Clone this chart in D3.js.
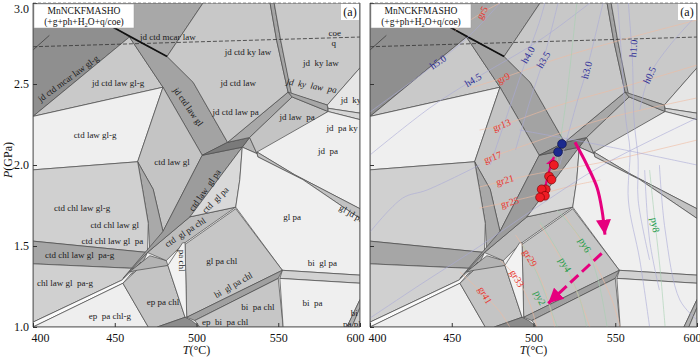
<!DOCTYPE html>
<meta charset="utf-8">
<script src="https://d3js.org/d3.v7.min.js"></script>
<style>
  body { margin: 0; background: #fff; }
  text { font-family: "Liberation Serif", "DejaVu Serif", serif; }
</style>
<div id="chart"></div>
<script>

var W = 700, H = 359

// axis ticks
var tTicks = [400, 450, 500, 550, 600]
var pTicks = [1.0, 1.5, 2.0, 2.5, 3.0]

// pseudosection fields, vertices as [T (°C), P (GPa)]
var fields = [
  ["jd ctd mcar law gl-g", [[400,3.0],[450,3.0],[450,2.85],[459,2.79],[400,2.30]]],
  ["jd ctd mcar law", [[450,3.0],[504,3.0],[482,2.67],[459,2.79],[450,2.85]]],
  ["jd ctd law gl-g", [[400,2.30],[459,2.79],[479.5,2.48]]],
  ["jd ctd law gl", [[459,2.79],[482,2.67],[498,2.51],[519,2.14],[503.5,2.06],[479.5,2.48]]],
  ["ctd law gl-g", [[400,2.30],[479.5,2.48],[464,2.02],[400,1.97]]],
  ["ctd law gl", [[479.5,2.48],[503.5,2.06],[479.5,1.59],[473.5,1.85],[464,2.02]]],
  ["ctd chl law gl", [[464,2.02],[473.5,1.85],[479.5,1.59],[471.5,1.46],[470.5,1.64],[467,1.85]]],
  ["ctd chl law gl-g", [[400,1.97],[464,2.02],[467,1.85],[470.5,1.64],[470,1.46],[400,1.53]]],
  ["ctd chl law gl pa-g", [[400,1.53],[470,1.46],[465.5,1.36],[400,1.39]]],
  ["chl law gl pa-g", [[400,1.39],[465.5,1.36],[454.5,1.29],[400,1.03]]],
  ["sliver", [[400,1.03],[454.5,1.29],[466,1.40],[455,1.27],[400,1.0]]],
  ["ep pa chl-g", [[400,1.0],[455,1.27],[470.5,1.0]]],
  ["ep pa chl", [[455,1.27],[465.5,1.37],[482.5,1.38],[493,1.06],[476,1.0],[470.5,1.0]]],
  ["ctd pa chl", [[459,1.34],[471.5,1.44],[481.5,1.41],[482.5,1.38],[463.5,1.35]]],
  ["ctd gl pa chl", [[470,1.46],[496,1.68],[524,1.74],[491.5,1.51],[481.5,1.41]]],
  ["ctd law gl pa", [[503.5,2.06],[528,2.11],[496,1.68],[470,1.46],[455,1.30],[479.5,1.59]]],
  ["ctd gl pa", [[528,2.11],[526.5,1.91],[524,1.74],[496,1.68]]],
  ["jd ctd gl pa", [[532.5,2.17],[537,2.07],[528,2.11]]],
  ["jd ctd law gl pa", [[503.5,2.06],[519,2.14],[532.5,2.17],[528,2.11]]],
  ["jd ctd law pa", [[519,2.14],[556,2.45],[558.5,2.42],[532.5,2.17]]],
  ["jd law pa", [[558.5,2.42],[580.5,2.33],[537,2.07],[532.5,2.17]]],
  ["jd ctd law", [[504,3.0],[545,3.0],[549,2.77],[556,2.45],[519,2.14],[498,2.51],[482,2.67]]],
  ["jd ctd ky law", [[545,3.0],[547.5,3.0],[551.5,2.77],[558.5,2.43],[556,2.45],[549,2.77]]],
  ["jd ky law", [[547.5,3.0],[600,3.0],[600,2.60],[580,2.37],[558,2.44],[551.5,2.77]]],
  ["jd ky law pa", [[556,2.45],[580,2.37],[580.5,2.33],[558.5,2.42]]],
  ["jd ky", [[580,2.37],[600,2.60],[600,2.32],[580.5,2.35]]],
  ["jd pa ky", [[580.5,2.35],[600,2.32],[600,2.28],[580.5,2.33]]],
  ["jd pa", [[580.5,2.33],[600,2.28],[600,1.73],[560,1.94],[537,2.08]]],
  ["gl jd pa", [[537,2.08],[560,1.94],[600,1.73],[600,1.67],[565,1.91],[537.5,2.05]]],
  ["gl pa", [[537.5,2.05],[565,1.91],[600,1.67],[600,1.32],[552.5,1.35],[524,1.74],[526.5,1.91],[528,2.11],[537,2.07]]],
  ["bi gl pa", [[552.5,1.35],[600,1.32],[600,1.27],[551,1.30]]],
  ["gl pa chl", [[493,1.51],[524,1.73],[552.5,1.35],[494,1.06]]],
  ["bi gl pa chl", [[494,1.06],[552.5,1.35],[550,1.30],[499,1.04]]],
  ["bi pa chl", [[499,1.04],[550,1.30],[553,1.0],[502,1.0]]],
  ["bi pa", [[551,1.30],[600,1.27],[600,1.17],[592,1.0],[553,1.0]]],
  ["bi pa pl", [[592,1.0],[600,1.17],[600,1.12],[595,1.0]]],
  ["pa pl", [[595,1.0],[600,1.12],[600,1.0]]],
  ["pa chl", [[482.5,1.38],[491.5,1.52],[493,1.52],[494,1.06],[493,1.06]]],
  ["ep bi pa chl", [[476,1.0],[493,1.06],[497,1.04],[502,1.0]]]
]

var fieldShade = {
  "jd ctd mcar law gl-g": "#8f8f8f", "jd ctd mcar law": "#a8a8a8", "jd ctd law gl-g": "#c9c9c9",
  "jd ctd law gl": "#a3a3a3", "ctd law gl-g": "#efefef", "ctd law gl": "#c4c4c4",
  "ctd chl law gl": "#a9a9a9", "ctd chl law gl-g": "#d0d0d0", "ctd chl law gl pa-g": "#a6a6a6",
  "chl law gl pa-g": "#d0d0d0", "sliver": "#fafafa", "ep pa chl-g": "#eeeeee", "ep pa chl": "#c4c4c4",
  "ctd pa chl": "#b3b3b3", "ctd gl pa chl": "#bdbdbd", "ctd law gl pa": "#9c9c9c", "ctd gl pa": "#d9d9d9",
  "jd ctd gl pa": "#b5b5b5", "jd ctd law gl pa": "#7a7a7a", "jd ctd law pa": "#a8a8a8", "jd law pa": "#c4c4c4",
  "jd ctd law": "#c8c8c8", "jd ctd ky law": "#a5a5a5", "jd ky law": "#c9c9c9", "jd ky law pa": "#a7a7a7",
  "jd ky": "#e6e6e6", "jd pa ky": "#d6d6d6", "jd pa": "#efefef", "gl jd pa": "#c2c2c2", "gl pa": "#efefef",
  "bi gl pa": "#d2d2d2", "gl pa chl": "#c6c6c6", "bi gl pa chl": "#a0a0a0", "bi pa chl": "#c6c6c6",
  "bi pa": "#efefef", "bi pa pl": "#b0b0b0", "pa pl": "#cfcfcf", "pa chl": "#f2f2f2", "ep bi pa chl": "#8c8c8c"
}

// coe = q reaction (dashed) and two single boundaries
var coeQ = [[400,2.73],[600,2.79]]
var heavyLine = [[449,2.85],[482,2.67]]
var thinLine = [[400,2.71],[410,2.80]]

// field labels of panel 1: [text, T, P]
var fieldLabels = [
  ["jd ctd mcar law gl-g", 421.5, 2.535], ["jd ctd mcar law", 482.5, 2.79],
  ["coe", 584.5, 2.815], ["q", 584, 2.755], ["jd ctd ky law", 531.5, 2.70],
  ["jd  ky law", 576, 2.63], ["jd ctd law gl-g", 452, 2.51], ["jd ctd law", 525.5, 2.505],
  ["jd  ky  law  pa", 570.5, 2.49], ["jd  ky", 594.5, 2.40], ["jd ctd law pa", 524, 2.33],
  ["jd law  pa", 561.5, 2.30], ["jd  pa ky", 589, 2.23], ["jd  pa", 580.5, 2.09],
  ["jd ctd law gl", 495, 2.36], ["ctd law gl-g", 438, 2.185], ["ctd law gl", 485, 2.02],
  ["ctd law  gl pa", 505, 1.845], ["ctd  gl pa", 511.5, 1.785], ["ctd  gl pa chl", 493, 1.586],
  ["gl jd pa", 595, 1.70], ["ctd chl law gl-g", 430, 1.735], ["ctd chl law gl", 450, 1.63],
  ["ctd chl law gl  pa", 448.5, 1.53], ["ctd chl law gl  pa-g", 428.5, 1.445],
  ["chl law gl  pa-g", 419.5, 1.27], ["ep  pa chl-g", 447, 1.068], ["ep pa chl", 479.5, 1.154],
  ["pa chl", 491, 1.41], ["gl pa chl", 515.5, 1.41], ["bi  gl pa chl", 522.5, 1.26],
  ["bi  pa chl", 537.5, 1.123], ["ep  bi  pa chl", 517.5, 1.03], ["gl pa", 558.5, 1.68],
  ["bi  gl pa", 577, 1.395], ["bi  pa", 571, 1.148], ["bi", 596.5, 1.086], ["pa pl", 595, 1.018]
]
var labelAngle = {
  "jd ctd mcar law gl-g": -36, "jd  ky  law  pa": 10, "jd ctd law gl": 55, "ctd law  gl pa": -55,
  "ctd  gl pa": -45, "ctd  gl pa chl": -33, "gl jd pa": 30, "pa chl": 90, "bi  gl pa chl": -30
}

// isopleths of panel 2
var grLines = [
  [[452,2.83],[468.5,2.94],[479.5,3.0]],
  [[461,2.475],[481,2.537],[516,2.66],[553,2.77],[600,2.895]],
  [[467,2.216],[481,2.247],[516,2.37],[559,2.494],[600,2.617]],
  [[469,2.031],[504,2.154],[541,2.278],[600,2.414]],
  [[467,1.864],[498,1.938],[542.5,2.018],[600,2.154]],
  [[467,1.734],[495,1.796],[525.5,1.876],[541,1.907]],
  [[489,1.568],[498,1.426],[507,1.228],[513,1.0]],
  [[479.5,1.414],[490,1.30],[498,1.136],[502,1.0]],
  [[455,1.34],[470,1.197],[479.5,1.093],[485.5,1.0]],
  [[504,1.63],[519,1.383],[528.5,1.167],[534.5,1.0]],
  [[519,1.69],[538,1.383],[548,1.167],[553,1.0]]
]
var hLines = [
  [[400,2.327],[441.5,2.636],[461,2.80],[479.5,3.0]],
  [[400,2.062],[436.5,2.352],[463,2.525],[504,2.772],[534.5,3.0]],
  [[473.5,2.0],[487,2.401],[496.5,2.68],[504,2.895],[507,3.0]],
  [[489,2.093],[498,2.401],[506,2.648],[515,3.0]],
  [[516,2.0],[527,2.401],[532.5,2.586],[542.5,3.0]],
  [[551.5,3.0],[554,2.648],[556.5,2.278],[559,2.093],[558,1.784],[565,1.414],[571,1.0]],
  [[558,3.0],[560.5,2.648],[561.5,2.278],[564,2.031],[564,1.784],[571,1.414]],
  [[565,2.34],[571,2.555],[583.5,2.74],[600,2.926]],
  [[400,1.055],[430.5,1.26],[465.5,1.488],[504,1.753],[542.5,2.0],[600,2.29]],
  [[400,1.586],[420,1.796],[435,1.846],[467,2.0]],
  [[491.5,2.216],[541,2.123],[600,2.0]],
  [[577,2.0],[580.5,1.599],[589.5,1.167],[600,1.043]],
  [[568,1.969],[571,1.537],[577,1.228]]
]
var pyLines = [
  [[493.5,1.506],[502.5,1.321],[508.5,1.167],[514.5,1.0]],
  [[504,1.648],[519,1.395],[528.5,1.167],[532.5,1.0]],
  [[514.5,1.722],[531.5,1.506],[539.5,1.29],[545,1.0]],
  [[571,1.969],[574.5,1.63],[577.5,1.352],[580.5,1.0]],
  [[514.5,2.03],[520,2.4],[526.5,3.0]]
]
var grLabels = [["gr5",468.5,2.94],["gr9",481.5,2.537],["gr13",480.5,2.247],["gr17",475,2.049],
  ["gr21",482.5,1.907],["gr25",485.5,1.77],["gr29",498,1.426],["gr33",490,1.30],["gr41",470.5,1.197]]
var hLabels = [["h5.0",441.5,2.636],["h4.5",463,2.525],["h4.0",496.5,2.68],["h3.5",506,2.65],
  ["h3.0",532.5,2.586],["h1.0",561,2.72],["h0.5",571,2.555]]
var pyLabels = [["py8",574.5,1.63],["py6",531.5,1.506],["py4",519.5,1.385],["py2",504,1.18]]
var isoAngle = {"gr5":-60,"gr9":-25,"gr13":-20,"gr17":-20,"gr21":-15,"gr25":-15,"gr29":60,"gr33":60,"gr41":60,
  "h5.0":-35,"h4.5":-30,"h4.0":-60,"h3.5":-60,"h3.0":-75,"h1.0":-85,"h0.5":-65,
  "py8":80,"py6":60,"py4":60,"py2":65}

// sample P-T estimates and path
var bluePts = [[517.4,2.13],[515,2.08]]
var redPts = [[512.5,2.0],[509.5,1.93],[511,1.91],[507.5,1.85],[505,1.85],[507,1.81],[504,1.80]]
var pathUp = [[506.4,1.83],[509.5,1.96],[512.5,2.05]]
var pathSolid = [[525.4,2.14],[532.7,2.0],[538.9,1.86],[541.9,1.72],[543.7,1.57]]
var pathDash = [[541.7,1.455],[509,1.146]]

var svg = d3.select("#chart").append("svg")
    .attr("width", W)
    .attr("height", H)

var y = d3.scaleLinear().domain([1, 3]).range([327, 3])
var panels = [
  { id: "p1", x: d3.scaleLinear().domain([400, 600]).range([33, 360]), right: false },
  { id: "p2", x: d3.scaleLinear().domain([400, 600]).range([370, 697]), right: true }
]

var defs = svg.append("defs")
function marker(id, len, half) {
  defs.append("marker")
      .attr("id", id)
      .attr("markerUnits", "userSpaceOnUse")
      .attr("viewBox", (-len) + " " + (-half) + " " + len + " " + (2 * half))
      .attr("refX", 0).attr("refY", 0)
      .attr("markerWidth", len).attr("markerHeight", 2 * half)
      .attr("orient", "auto")
    .append("path")
      .attr("d", "M" + (-len) + "," + (-half) + "L0,0L" + (-len) + "," + half + "Z")
      .attr("fill", "#e6007e")
}
marker("headBig", 15, 7.5)
marker("headSmall", 9, 5)

panels.forEach(function(p) {
  var x = p.x
  var x0 = x.range()[0], x1 = x.range()[1]
  defs.append("clipPath").attr("id", "clip-" + p.id)
    .append("rect").attr("x", x0).attr("y", 3).attr("width", x1 - x0).attr("height", 324)

  var line = d3.line().x(function(d) { return x(d[0]) }).y(function(d) { return y(d[1]) })
  var smooth = d3.line().curve(d3.curveCatmullRom).x(function(d) { return x(d[0]) }).y(function(d) { return y(d[1]) })

  var g = svg.append("g").attr("clip-path", "url(#clip-" + p.id + ")")

  g.append("rect").attr("x", x0).attr("y", 3).attr("width", x1 - x0).attr("height", 324)
    .attr("fill", "#efefef")

  g.selectAll("path.field")
    .data(fields)
    .enter()
    .append("path")
      .attr("class", "field")
      .attr("d", function(d) { return line(d[1]) + "Z" })
      .attr("fill", function(d) { return fieldShade[d[0]] })
      .attr("stroke", "#4a4a4a")
      .attr("stroke-width", 0.7)
      .attr("stroke-linejoin", "round")

  g.append("path").attr("d", line(coeQ)).attr("fill", "none")
    .attr("stroke", "#333").attr("stroke-width", 0.8).attr("stroke-dasharray", "4,2")
  g.append("path").attr("d", line(heavyLine)).attr("fill", "none")
    .attr("stroke", "#111").attr("stroke-width", 1.6)
  g.append("path").attr("d", line(thinLine)).attr("fill", "none")
    .attr("stroke", "#333").attr("stroke-width", 0.7)

  if (!p.right) {
    g.selectAll("text.lab")
      .data(fieldLabels)
      .enter()
      .append("text")
        .attr("class", "lab")
        .attr("transform", function(d) {
          return "translate(" + x(d[1]) + "," + y(d[2]) + ") rotate(" + (labelAngle[d[0]] || 0) + ")"
        })
        .attr("text-anchor", "middle")
        .attr("dy", "0.35em")
        .style("white-space", "pre")
        .style("font-style", function(d) { return d[0] == "jd  ky  law  pa" ? "italic" : "normal" })
        .attr("font-size", 9)
        .attr("fill", "#1a1a1a")
        .text(function(d) { return d[0] })
  } else {
    // isopleths
    var iso = [[grLines, "#f0bba0"], [hLines, "#aaaad6"], [pyLines, "#a6d0b0"]]
    iso.forEach(function(s) {
      g.selectAll(null).data(s[0]).enter().append("path")
        .attr("d", smooth).attr("fill", "none")
        .attr("stroke", s[1]).attr("stroke-width", 0.6)
    })
    var isoLab = [[grLabels, "#e8362f"], [hLabels, "#2e2e96"], [pyLabels, "#1b9a48"]]
    isoLab.forEach(function(s) {
      g.selectAll(null).data(s[0]).enter().append("text")
        .attr("transform", function(d) {
          return "translate(" + x(d[1]) + "," + y(d[2]) + ") rotate(" + isoAngle[d[0]] + ")"
        })
        .attr("text-anchor", "middle").attr("dy", "0.35em")
        .attr("font-size", 10).attr("fill", s[1])
        .text(function(d) { return d[0] })
    })

    // P-T path arrows
    g.append("path").attr("d", smooth(pathSolid)).attr("fill", "none")
      .attr("stroke", "#e6007e").attr("stroke-width", 3).attr("marker-end", "url(#headBig)")
    g.append("path").attr("d", line(pathDash)).attr("fill", "none")
      .attr("stroke", "#e6007e").attr("stroke-width", 3).attr("stroke-dasharray", "11,5")
      .attr("marker-end", "url(#headBig)")
    g.append("path").attr("d", smooth(pathUp)).attr("fill", "none")
      .attr("stroke", "#e6007e").attr("stroke-width", 2.2).attr("marker-end", "url(#headSmall)")

    g.selectAll("circle.red").data(redPts).enter().append("circle")
      .attr("cx", function(d) { return x(d[0]) }).attr("cy", function(d) { return y(d[1]) })
      .attr("r", 4.4).attr("fill", "#ee1c25").attr("stroke", "#6e0000").attr("stroke-width", 0.6)
    g.selectAll("circle.blue").data(bluePts).enter().append("circle")
      .attr("cx", function(d) { return x(d[0]) }).attr("cy", function(d) { return y(d[1]) })
      .attr("r", 4.4).attr("fill", "#1b2a8e").attr("stroke", "#0a0f40").attr("stroke-width", 0.6)
  }

  // frame: top dashed, others solid
  svg.append("path").attr("d", "M" + x0 + ",3V327H" + x1 + "V3")
    .attr("fill", "none").attr("stroke", "#555").attr("stroke-width", 0.9)
  svg.append("line").attr("x1", x0).attr("x2", x1).attr("y1", 3).attr("y2", 3)
    .attr("stroke", "#777").attr("stroke-width", 0.8).attr("stroke-dasharray", "3,2")

  // bottom axis with inward ticks
  var ax = svg.append("g").attr("transform", "translate(0,327)")
    .call(d3.axisBottom(x).tickValues(tTicks).tickSize(-4).tickSizeOuter(0).tickPadding(6))
  ax.select(".domain").remove()
  ax.selectAll("line").attr("stroke", "#333")
  ax.selectAll("text")
    .attr("font-size", 12).attr("fill", "#111")
    .attr("font-family", "Liberation Serif, serif")
    .attr("text-anchor", function(d) { return d == 400 ? "start" : d == 600 ? "end" : "middle" })
    .attr("dx", function(d) { return d == 400 ? -2 : d == 600 ? 4 : 0 })

  // left axis ticks, labels only on the first panel
  var ay = svg.append("g").attr("transform", "translate(" + x0 + ",0)")
    .call(d3.axisLeft(y).tickValues(pTicks).tickSize(-4).tickSizeOuter(0).tickPadding(4)
      .tickFormat(p.right ? "" : d3.format(".1f")))
  ay.select(".domain").remove()
  ay.selectAll("line").attr("stroke", "#333")
  ay.selectAll("text").attr("font-size", 12).attr("fill", "#111")
    .attr("font-family", "Liberation Serif, serif")
    .attr("dy", function(d) { return d == 3 ? "0.75em" : "0.32em" })

  // x title
  var xt = svg.append("text").attr("x", (x0 + x1) / 2).attr("y", 354)
    .attr("text-anchor", "middle").attr("font-size", 12).attr("fill", "#111")
  xt.append("tspan").style("font-style", "italic").text("T")
  xt.append("tspan").text("(°C)")

  // system box
  svg.append("rect").attr("x", x0 + 1).attr("y", 4).attr("width", 100).attr("height", 24)
    .attr("fill", "#fff").attr("stroke", "#999").attr("stroke-width", 0.5)
  svg.append("text").attr("x", x0 + 51).attr("y", 14).attr("text-anchor", "middle")
    .attr("font-size", 9.5).attr("fill", "#111").text("MnNCKFMASHO")
  var st = svg.append("text").attr("x", x0 + 51).attr("y", 25).attr("text-anchor", "middle")
    .attr("font-size", 9.5).attr("fill", "#111")
  st.append("tspan").text("(+g+ph+H")
  st.append("tspan").attr("font-size", 6.5).attr("dy", 2).text("2")
  st.append("tspan").attr("dy", -2).text("O+q/coe)")

  // panel tag
  svg.append("rect").attr("x", x1 - 19).attr("y", 4).attr("width", 18).attr("height", 16)
    .attr("fill", "#fff")
  svg.append("text").attr("x", x1 - 10).attr("y", 16).attr("text-anchor", "middle")
    .attr("font-size", 12).attr("fill", "#111").text("(a)")
})

// y title
var yt = svg.append("text").attr("transform", "translate(12,160) rotate(-90)")
  .attr("text-anchor", "middle").attr("font-size", 12).attr("fill", "#111")
yt.append("tspan").style("font-style", "italic").text("P")
yt.append("tspan").text("(GPa)")

</script>
